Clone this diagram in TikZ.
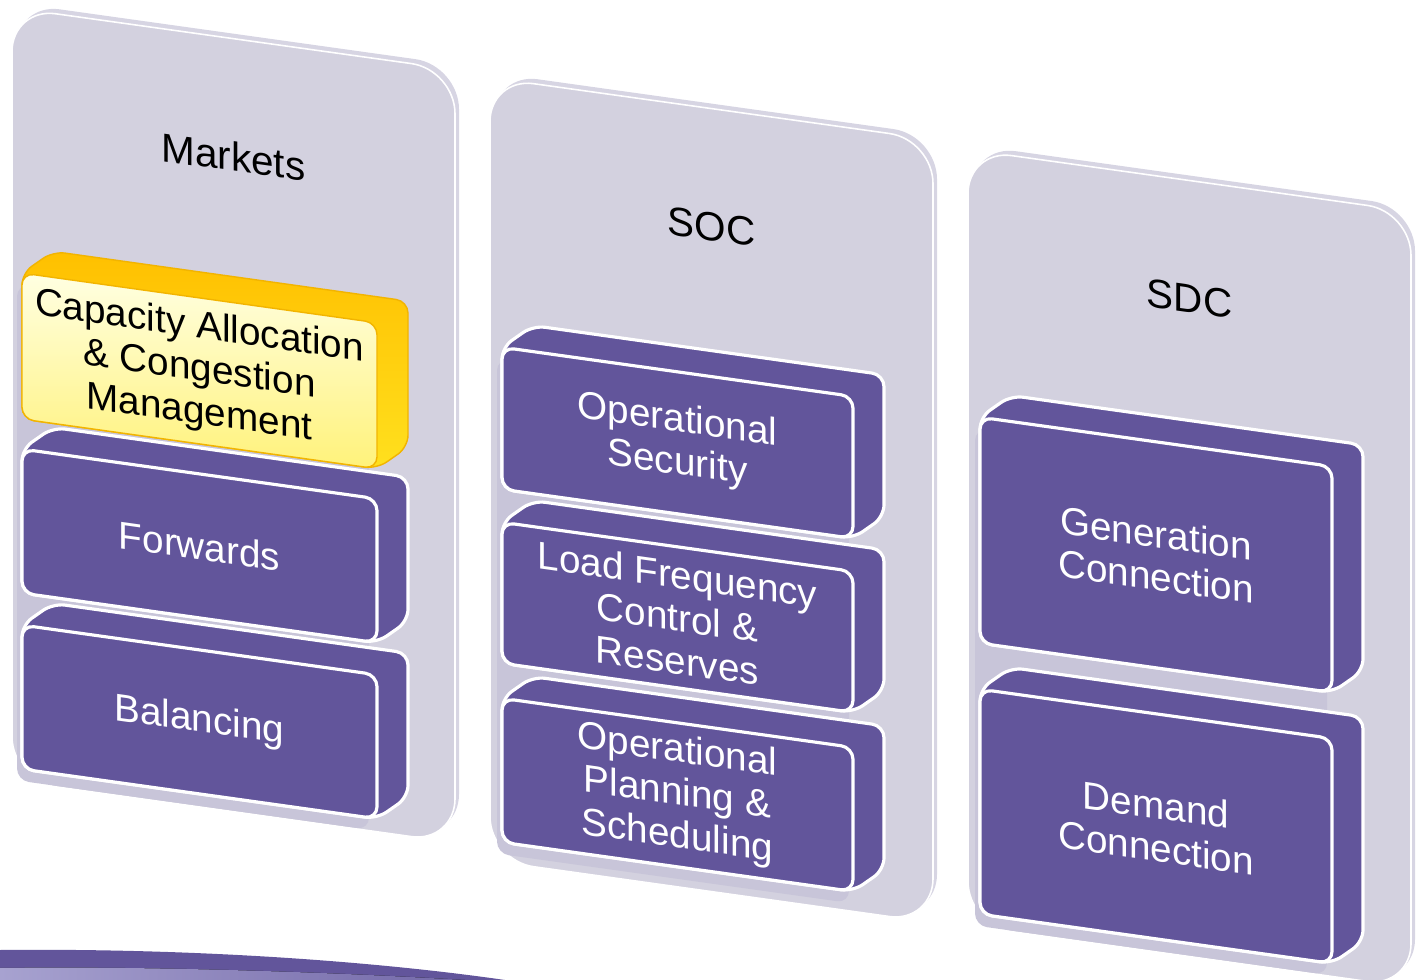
\documentclass[tikz,border=0pt]{standalone}
\usepackage{fontspec}
\setmainfont{Liberation Sans}
\usepackage{tikz}
\usetikzlibrary{calc}
\definecolor{plum}{HTML}{62559B}
\definecolor{panelgrey}{HTML}{D3D1DF}
\definecolor{panelrim}{HTML}{D7D5E3}
\definecolor{slabshade}{HTML}{C8C5D9}
\definecolor{goldtop}{HTML}{FFC000}
\definecolor{goldside}{HTML}{FFE01E}
\definecolor{goldline}{HTML}{F2B400}
\definecolor{creamtop}{HTML}{FFFFE2}
\definecolor{creambottom}{HTML}{FFF27A}
\definecolor{lavender}{HTML}{A7A2D0}
\tikzset{
panel/.style={fill=panelgrey,draw=white,line width=0.45pt,rounded corners=12.5pt},
panel rim/.style={fill=panelrim,rounded corners=12.5pt},
panel title/.style={transform shape,font=\fontsize{11.5}{13}\selectfont},
slab shadow/.style={fill=slabshade,rounded corners=3.4pt},
plum hull/.style={fill=plum,draw=white,line width=0.9pt,rounded corners=3.4pt},
plum face/.style={fill=plum,draw=white,line width=0.9pt,rounded corners=3.4pt},
plum text/.style={transform shape,text=white,align=center,font=\fontsize{11}{12.2}\selectfont},
gold hull/.style={top color=goldtop,bottom color=goldside,draw=goldline,line width=0.4pt,rounded corners=3.4pt},
gold face/.style={top color=creamtop,bottom color=creambottom,draw=goldline,line width=0.4pt,rounded corners=3.4pt},
gold text/.style={transform shape,text=black,align=center,font=\fontsize{11}{12.2}\selectfont}
}
% #1 look, #2 name, #3 left, #4 top, #5 width, #6 height, #7 text
\newcommand{\slab}[7]{%
\draw[#1 hull] (#3,#4) -- ++(31,-26) -- ++(#5,0) -- ++(0,#6) -- ++(-31,26) -- ++(-#5,0) -- cycle;
\draw[#1 face] (#3,#4) rectangle ++(#5,#6);
\node[#1 text] (#2) at (#3+#5/2,#4+#6/2) {#7};
}

\begin{document}
\begin{tikzpicture}[x=0.01cm,y=-0.01cm]
\useasboundingbox (0,0) rectangle (1422,980);
\fill[plum] (0,950) .. controls (200,948) and (380,962) .. (505,980) -- (0,980) -- cycle;
\fill[left color=lavender,right color=plum!75!lavender] (0,968) .. controls (150,966) and (330,972) .. (465,980) -- (0,980) -- cycle;
\pgftransformyslant{-0.14}
\foreach \px/\py/\pb/\ttl in {12/6/779/Markets,490/9/792/SOC,968/14/790/SDC}{
\fill[panel rim] (\px+4,\py-5) rectangle (\px+447,\pb-5);
\draw[panel] (\px,\py) rectangle (\px+443,\pb);
\node[panel title] (\ttl) at (\px+221.5,\py+118) {\ttl};
}
\foreach \sx/\st/\sb in {22/270/766,502/277/772,980/280/777} \fill[slab shadow] (\sx-5,\st+12) rectangle (\sx+347,\sb+12);
% markets
\slab{plum}{balancing}{22}{622}{355}{144}{Balancing}
\slab{plum}{forwards}{22}{446}{355}{144}{Forwards}
\slab{gold}{cacm}{22}{270}{355}{146}{Capacity Allocation\\ \& Congestion\\ Management}
% soc
\slab{plum}{opplan}{502}{628}{351}{144}{Operational\\ Planning \&\\ Scheduling}
\slab{plum}{lfcr}{502}{452}{351}{141}{Load Frequency\\ Control \&\\ Reserves}
\slab{plum}{opsec}{502}{277}{351}{142}{Operational\\ Security}
% sdc
\slab{plum}{demand}{980}{552}{352}{225}{Demand\\ Connection}
\slab{plum}{generation}{980}{280}{352}{226}{Generation\\ Connection}
\end{tikzpicture}
\end{document}
